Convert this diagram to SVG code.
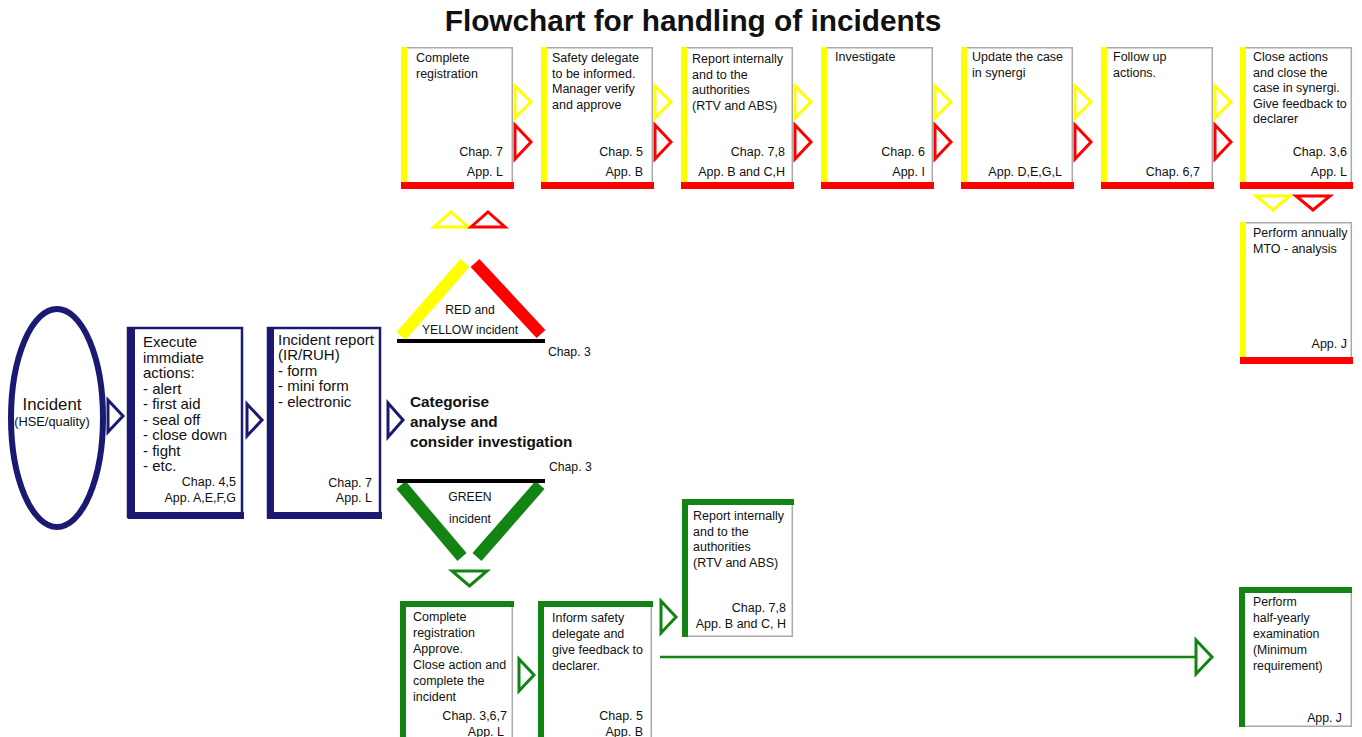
<svg xmlns="http://www.w3.org/2000/svg" width="1362" height="737" viewBox="0 0 1362 737">
<style>
text{font-family:"Liberation Sans",Arial,sans-serif;fill:#111}
.s{font-size:12.5px}
.b{font-size:15px}
.sm{font-size:12.2px}
.r{text-anchor:end}
.m{text-anchor:middle}
.box{fill:#fff}
.gr{stroke:#aaa;stroke-width:1.5;fill:none}
.ya{fill:none;stroke:#ffff00;stroke-width:3}
.ra{fill:none;stroke:#ff0000;stroke-width:3}
.ga{fill:none;stroke:#138413;stroke-width:3}
.na{fill:none;stroke:#1a1a72;stroke-width:3}
.Y{fill:#ffff00}
.R{fill:#ff0000}
.G{fill:#138413}
.N{fill:#1a1a72}
</style>
<rect width="1362" height="737" fill="#fff"/>
<text x="693" y="31" class="m" style="font-size:29.8px;font-weight:bold">Flowchart for handling of incidents</text>

<g id="incident">
<ellipse cx="57" cy="418" rx="46" ry="109" fill="#fff" stroke="#1a1a72" stroke-width="6"/>
<text x="52" y="410" class="m" style="font-size:16.8px">Incident</text>
<text x="52" y="426" class="m" style="font-size:12.8px">(HSE/quality)</text>
</g>

<g id="execute">
<rect x="128" y="328" width="114" height="189" class="box" stroke="#1a1a72" stroke-width="2.5"/>
<rect x="128" y="327" width="7" height="192" class="N"/>
<rect x="128" y="512" width="116" height="7" class="N"/>
<text class="b" x="143"><tspan x="143" y="347">Execute</tspan><tspan x="143" y="362.5">immdiate</tspan><tspan x="143" y="378">actions:</tspan><tspan x="143" y="393.5">- alert</tspan><tspan x="143" y="409">- first aid</tspan><tspan x="143" y="424.5">- seal off</tspan><tspan x="143" y="440">- close down</tspan><tspan x="143" y="455.5">- fight</tspan><tspan x="143" y="471">- etc.</tspan></text>
<text class="s r" x="236" y="486">Chap. 4,5</text>
<text class="s r" x="236" y="502">App. A,E,F,G</text>
</g>

<g id="report">
<rect x="268" y="328" width="112" height="189" class="box" stroke="#1a1a72" stroke-width="2.5"/>
<rect x="267" y="327" width="7" height="192" class="N"/>
<rect x="267" y="512" width="115" height="7" class="N"/>
<text class="b"><tspan x="278" y="345">Incident report</tspan><tspan x="278" y="360">(IR/RUH)</tspan><tspan x="278" y="375.5">- form</tspan><tspan x="278" y="391">- mini form</tspan><tspan x="278" y="406.5">- electronic</tspan></text>
<text class="s r" x="372" y="487">Chap. 7</text>
<text class="s r" x="372" y="502">App. L</text>
</g>

<g id="categorise">
<text style="font-size:15.3px;font-weight:bold"><tspan x="410" y="407">Categorise</tspan><tspan x="410" y="427">analyse and</tspan><tspan x="410" y="447">consider investigation</tspan></text>
</g>

<g id="red-yellow">
<polygon points="434,227 468,227 451,212" class="ya"/>
<polygon points="471,227 505,227 488,212" class="ra"/>
<line x1="401" y1="336" x2="465" y2="263" stroke="#ffff00" stroke-width="12"/>
<line x1="475" y1="263" x2="541" y2="334" stroke="#ff0000" stroke-width="12"/>
<line x1="397" y1="341" x2="545" y2="341" stroke="#000" stroke-width="4"/>
<text class="sm m" x="470" y="314">RED and</text>
<text class="sm m" x="470" y="334">YELLOW incident</text>
<text class="sm" x="548" y="356">Chap. 3</text>
</g>

<g id="green">
<line x1="401" y1="485" x2="462" y2="557" stroke="#138413" stroke-width="12"/>
<line x1="540" y1="485" x2="477" y2="557" stroke="#138413" stroke-width="12"/>
<line x1="397" y1="481" x2="545" y2="481" stroke="#000" stroke-width="4"/>
<text class="sm m" x="470" y="501">GREEN</text>
<text class="sm m" x="470" y="523">incident</text>
<text class="sm" x="549" y="471">Chap. 3</text>
<polygon points="452,571 487,571 469.5,586" class="ga"/>
</g>

<g id="top1">
<rect x="401" y="47" width="112" height="140" class="box"/>
<path d="M401 47.8H512.3V183" class="gr"/>
<rect x="401" y="47" width="6" height="136" class="Y"/>
<rect x="401" y="182" width="113" height="7" class="R"/>
<text class="s"><tspan x="416" y="62">Complete</tspan><tspan x="416" y="77.5">registration</tspan></text>
<text class="s r" x="503" y="156">Chap. 7</text>
<text class="s r" x="503" y="176">App. L</text>
</g>
<g id="top2">
<rect x="541" y="47" width="112" height="140" class="box"/>
<path d="M541 47.8H652.3V183" class="gr"/>
<rect x="541" y="47" width="6" height="136" class="Y"/>
<rect x="541" y="182" width="113" height="7" class="R"/>
<text class="s"><tspan x="552" y="62">Safety delegate</tspan><tspan x="552" y="77.5">to be informed.</tspan><tspan x="552" y="93">Manager verify</tspan><tspan x="552" y="108.5">and approve</tspan></text>
<text class="s r" x="643" y="156">Chap. 5</text>
<text class="s r" x="643" y="176">App. B</text>
</g>
<g id="top3">
<rect x="681" y="47" width="112" height="140" class="box"/>
<path d="M681 47.8H792.3V183" class="gr"/>
<rect x="681" y="47" width="6" height="136" class="Y"/>
<rect x="681" y="182" width="113" height="7" class="R"/>
<text class="s"><tspan x="692" y="63">Report internally</tspan><tspan x="692" y="78.5">and to the</tspan><tspan x="692" y="94">authorities</tspan><tspan x="692" y="109.5">(RTV and ABS)</tspan></text>
<text class="s r" x="785" y="156">Chap. 7,8</text>
<text class="s r" x="785" y="176">App. B and C,H</text>
</g>
<g id="top4">
<rect x="821" y="47" width="112" height="140" class="box"/>
<path d="M821 47.8H932.3V183" class="gr"/>
<rect x="821" y="47" width="6" height="136" class="Y"/>
<rect x="821" y="182" width="113" height="7" class="R"/>
<text class="s" x="835" y="60.5">Investigate</text>
<text class="s r" x="925" y="156">Chap. 6</text>
<text class="s r" x="925" y="176">App. I</text>
</g>
<g id="top5">
<rect x="961" y="47" width="112" height="140" class="box"/>
<path d="M961 47.8H1072.3V183" class="gr"/>
<rect x="961" y="47" width="6" height="136" class="Y"/>
<rect x="961" y="182" width="113" height="7" class="R"/>
<text class="s"><tspan x="972" y="61">Update the case</tspan><tspan x="972" y="76.5">in synergi</tspan></text>
<text class="s r" x="1062" y="176">App. D,E,G,L</text>
</g>
<g id="top6">
<rect x="1101" y="47" width="112" height="140" class="box"/>
<path d="M1101 47.8H1212.3V183" class="gr"/>
<rect x="1101" y="47" width="6" height="136" class="Y"/>
<rect x="1101" y="182" width="113" height="7" class="R"/>
<text class="s"><tspan x="1113" y="61">Follow up</tspan><tspan x="1113" y="76.5">actions.</tspan></text>
<text class="s r" x="1200" y="176">Chap. 6,7</text>
</g>
<g id="top7">
<rect x="1240" y="47" width="112" height="140" class="box"/>
<path d="M1240 47.8H1351.3V183" class="gr"/>
<rect x="1240" y="47" width="6" height="136" class="Y"/>
<rect x="1240" y="182" width="113" height="7" class="R"/>
<text class="s"><tspan x="1253" y="61">Close actions</tspan><tspan x="1253" y="76.5">and close the</tspan><tspan x="1253" y="92">case in synergi.</tspan><tspan x="1253" y="107.5">Give feedback to</tspan><tspan x="1253" y="123">declarer</tspan></text>
<text class="s r" x="1347" y="156">Chap. 3,6</text>
<text class="s r" x="1347" y="176">App. L</text>
</g>
<g id="mto">
<rect x="1240" y="222" width="112" height="139" class="box"/>
<path d="M1240 222.8H1351.3V357" class="gr"/>
<rect x="1240" y="222" width="6" height="136" class="Y"/>
<rect x="1240" y="357" width="113" height="7" class="R"/>
<text class="s"><tspan x="1253" y="237">Perform annually</tspan><tspan x="1253" y="252.5">MTO - analysis</tspan></text>
<text class="s r" x="1347" y="348">App. J</text>
</g>

<g id="g1">
<rect x="400" y="601" width="113" height="140" class="box"/>
<path d="M512.3 601V737" class="gr"/>
<rect x="400" y="601" width="6" height="136" class="G"/>
<rect x="400" y="601" width="114" height="6" class="G"/>
<text class="s"><tspan x="413" y="621">Complete</tspan><tspan x="413" y="637">registration</tspan><tspan x="413" y="653">Approve.</tspan><tspan x="413" y="669">Close action and</tspan><tspan x="413" y="685">complete the</tspan><tspan x="413" y="701">incident</tspan></text>
<text class="s r" x="507" y="720">Chap. 3,6,7</text>
<text class="s r" x="504" y="736">App. L</text>
</g>
<g id="g2">
<rect x="538" y="601" width="114" height="140" class="box"/>
<path d="M651.3 601V737" class="gr"/>
<rect x="538" y="601" width="6" height="136" class="G"/>
<rect x="538" y="601" width="115" height="6" class="G"/>
<text class="s"><tspan x="552" y="622">Inform safety</tspan><tspan x="552" y="638">delegate and</tspan><tspan x="552" y="654">give feedback to</tspan><tspan x="552" y="670">declarer.</tspan></text>
<text class="s r" x="643" y="720">Chap. 5</text>
<text class="s r" x="643" y="736">App. B</text>
</g>
<g id="g3">
<rect x="682" y="499" width="111" height="138" class="box"/>
<path d="M682 636.3H792.3V499" class="gr"/>
<rect x="682" y="499" width="6" height="138" class="G"/>
<rect x="682" y="499" width="112" height="6" class="G"/>
<text class="s"><tspan x="693" y="520">Report internally</tspan><tspan x="693" y="535.5">and to the</tspan><tspan x="693" y="551">authorities</tspan><tspan x="693" y="566.5">(RTV and ABS)</tspan></text>
<text class="s r" x="786" y="612">Chap. 7,8</text>
<text class="s r" x="786" y="628">App. B and C, H</text>
</g>
<g id="g4">
<rect x="1239" y="587" width="113" height="140" class="box"/>
<path d="M1239 726.3H1351.3V587" class="gr"/>
<rect x="1239" y="587" width="6" height="140" class="G"/>
<rect x="1239" y="587" width="113" height="6" class="G"/>
<text class="s" style="font-size:12.3px"><tspan x="1253" y="606">Perform</tspan><tspan x="1253" y="622">half-yearly</tspan><tspan x="1253" y="638">examination</tspan><tspan x="1253" y="654">(Minimum</tspan><tspan x="1253" y="670">requirement)</tspan></text>
<text class="s r" style="font-size:12.3px" x="1342" y="722">App. J</text>
</g>

<g id="connectors">
<polygon points="108,400 123,416 108,432" class="na"/>
<polygon points="247,404 262,420 247,436" class="na"/>
<polygon points="388,403 403,420 388,437" class="na"/>
<polygon points="515,86 531,102 515,118" class="ya"/>
<polygon points="515,125 531,142 515,159" class="ra"/>
<polygon points="655,86 671,102 655,118" class="ya"/>
<polygon points="655,125 671,142 655,159" class="ra"/>
<polygon points="795,86 811,102 795,118" class="ya"/>
<polygon points="795,125 811,142 795,159" class="ra"/>
<polygon points="935,86 951,102 935,118" class="ya"/>
<polygon points="935,125 951,142 935,159" class="ra"/>
<polygon points="1075,86 1091,102 1075,118" class="ya"/>
<polygon points="1075,125 1091,142 1075,159" class="ra"/>
<polygon points="1215,86 1231,102 1215,118" class="ya"/>
<polygon points="1215,125 1231,142 1215,159" class="ra"/>
<polygon points="1256,196 1290,196 1273,210" class="ya"/>
<polygon points="1296,196 1330,196 1313,210" class="ra"/>
<polygon points="519,659 534,675 519,691" class="ga"/>
<polygon points="661,601 676,617 661,633" class="ga"/>
<line x1="660" y1="657" x2="1196" y2="657" stroke="#138413" stroke-width="2.5"/>
<polygon points="1196,640 1212,657 1196,674" class="ga"/>
</g>
</svg>
